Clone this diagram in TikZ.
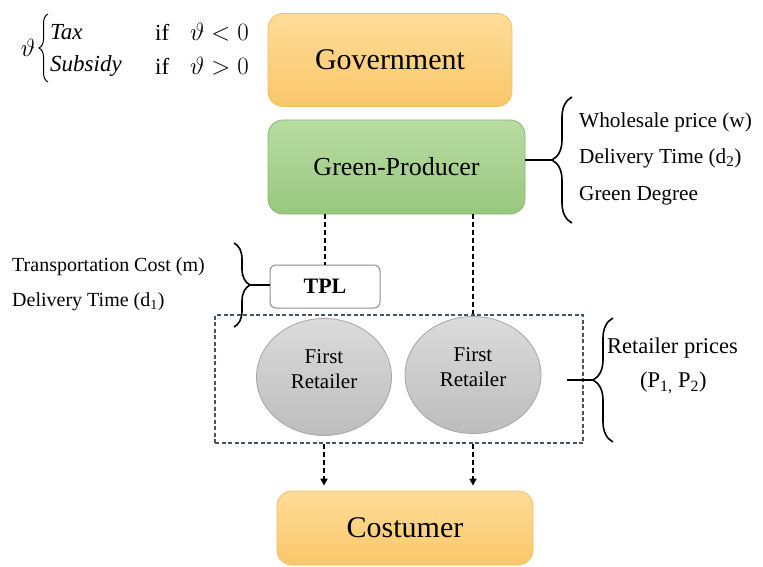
\documentclass[tikz,border=0pt]{standalone}
\usepackage{fontspec}
\setmainfont{Liberation Serif}
\usetikzlibrary{decorations.pathreplacing,arrows.meta,shapes.geometric}
\definecolor{orT}{HTML}{FFDC98}
\definecolor{orB}{HTML}{F9C76A}
\definecolor{orD}{HTML}{EFC067}
\definecolor{grT}{HTML}{B9DCA3}
\definecolor{grB}{HTML}{98C77D}
\definecolor{grD}{HTML}{86B86E}
\definecolor{boxline}{HTML}{44546A}
\tikzset{
  actor/.style={draw=orD, line width=0.8pt, rounded corners=15pt, top color=orT, bottom color=orB, align=center, inner sep=0pt},
  greenbox/.style={draw=grD, line width=0.8pt, rounded corners=15pt, top color=grT, bottom color=grB, align=center, inner sep=0pt},
  tplbox/.style={draw=black!45, line width=1pt, rounded corners=6pt, fill=white, inner sep=0pt},
  retail/.style={ellipse, draw=black!35, line width=0.8pt, top color=black!14, bottom color=black!26, inner sep=0pt},
  rettext/.style={align=center, inner sep=0pt, font=\fontsize{21}{25}\selectfont},
  dline/.style={line width=1.6pt, dash pattern=on 5pt off 3pt},
  darrow/.style={line width=1.6pt, dash pattern=on 5pt off 3pt, -{Triangle[length=7pt,width=7pt]}},
  bracestyle/.style={decorate, line width=1.6pt},
  lbl/.style={anchor=west, inner sep=0pt, font=\fontsize{20}{24}\selectfont},
  rlbl/.style={anchor=west, inner sep=0pt, font=\fontsize{21.3}{25}\selectfont},
  mlbl/.style={anchor=west, inner sep=0pt, font=\fontsize{23}{27}\selectfont},
}
\begin{document}
\begin{tikzpicture}[x=1pt,y=-1pt]
\useasboundingbox (0,0) rectangle (763,567);

% cases formula
\node[mlbl, anchor=center] (theta) at (28,48) {$\vartheta$};
\coordinate (cb1) at (48,82);
\coordinate (cb2) at (48,14);
\draw[decorate, line width=1pt, decoration={brace, amplitude=9pt}] (cb1) -- (cb2);
\node[mlbl] (tax) at (50,32) {\itshape Tax};
\node[mlbl] (if1) at (155,32) {if};
\node[mlbl] (neg) at (190,32) {$\vartheta<0$};
\node[mlbl] (sub) at (50,66) {\itshape Subsidy};
\node[mlbl] (if2) at (155,66) {if};
\node[mlbl] (pos) at (190,66) {$\vartheta>0$};

% main boxes
\node[actor, minimum width=244pt, minimum height=93pt, font=\fontsize{30}{36}\selectfont] (gov) at (390,60) {Government};
\node[greenbox, minimum width=257pt, minimum height=94pt, font=\fontsize{26}{31}\selectfont] (prod) at (396.5,167) {Green-Producer};
\node[tplbox, minimum width=110pt, minimum height=43pt, font=\bfseries\fontsize{22}{26}\selectfont] (tpl) at (325,286.5) {TPL};

% retailer group
\node[draw=boxline, line width=1.4pt, dash pattern=on 4pt off 2.5pt, minimum width=368pt, minimum height=128pt, inner sep=0pt] (group) at (399,379) {};
\node[retail, minimum width=135pt, minimum height=117pt] (ret1) at (324,377) {};
\node[retail, minimum width=136pt, minimum height=117pt] (ret2) at (473,375) {};
\node[rettext] (ret1t) at (324,369) {First\\Retailer};
\node[rettext] (ret2t) at (473,367) {First\\Retailer};

\node[actor, minimum width=256pt, minimum height=74pt, font=\fontsize{30}{36}\selectfont] (cust) at (405,528) {Costumer};

% dashed connectors
\draw[dline] (prod.south -| tpl.north) -- (tpl.north);
\draw[dline] (prod.south -| ret2.north) -- (group.north -| ret2.north);
\draw[darrow, shorten >=5pt] (group.south -| ret1.south) -- (cust.north -| ret1.south);
\draw[darrow, shorten >=5pt] (group.south -| ret2.south) -- (cust.north -| ret2.south);

% producer brace and labels
\coordinate (pb1) at (572,223);
\coordinate (pb2) at (572,97);
\coordinate (ptip) at (552,160);
\draw[bracestyle, decoration={brace, amplitude=20pt}] (pb1) -- (pb2);
\draw[line width=1.6pt] (prod.east |- ptip) -- (ptip);
\node[rlbl] (w) at (579,122) {Wholesale price (w)};
\node[rlbl] (d2) at (579,158) {Delivery Time (d\textsubscript{2})};
\node[rlbl] (gd) at (579,196) {Green Degree};

% TPL brace and labels
\coordinate (tb1) at (234,243);
\coordinate (tb2) at (234,327);
\coordinate (ttip) at (250,285);
\draw[bracestyle, decoration={brace, amplitude=16pt}] (tb1) -- (tb2);
\draw[line width=1.6pt] (ttip) -- (tpl.west |- ttip);
\node[lbl] (tc) at (12,267) {Transportation Cost (m)};
\node[lbl] (d1) at (12,302) {Delivery Time (d\textsubscript{1})};

% retailer brace and labels
\coordinate (rb1) at (613,442);
\coordinate (rb2) at (613,318);
\coordinate (rtip) at (593,380);
\coordinate (rstart) at (567,380);
\draw[bracestyle, decoration={brace, amplitude=20pt}] (rb1) -- (rb2);
\draw[line width=1.6pt] (rstart) -- (rtip);
\node[rlbl, font=\fontsize{22.5}{26}\selectfont] (rp) at (607,348) {Retailer prices};
\node[rlbl, font=\fontsize{22.5}{26}\selectfont] (pp) at (640,383) {(P\textsubscript{1,} P\textsubscript{2})};
\end{tikzpicture}
\end{document}
